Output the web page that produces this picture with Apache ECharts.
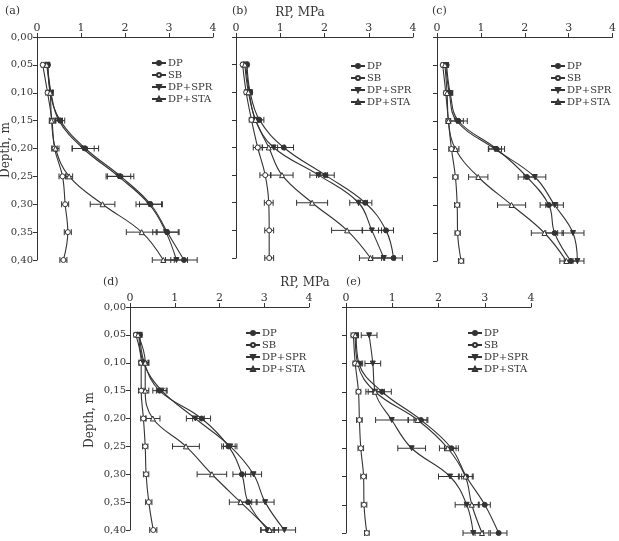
<!DOCTYPE html>
<html>
<head>
<meta charset="utf-8">
<script src="https://cdn.jsdelivr.net/npm/echarts@6/dist/echarts.min.js"></script>
<style>
  html, body { margin: 0; padding: 0; background: #fff; }
  #chart { width: 619px; height: 541px; }
</style>
</head>
<body>
<div id="chart"></div>
<script>
// depth levels (m)
const depths = [0.05, 0.10, 0.15, 0.20, 0.25, 0.30, 0.35, 0.40];
const names = ['DP', 'SB', 'DP+SPR', 'DP+STA'];
const panelLabels = ['(a)', '(b)', '(c)', '(d)', '(e)'];

// penetration resistance RP (MPa), and half width of error bars
const aDP  = [0.25, 0.30, 0.53, 1.10, 1.90, 2.58, 2.96, 3.34];
const aSB  = [0.13, 0.24, 0.34, 0.40, 0.58, 0.64, 0.70, 0.60];
const aSPR = [0.24, 0.32, 0.50, 1.05, 1.85, 2.55, 2.93, 3.17];
const aSTA = [0.22, 0.30, 0.33, 0.42, 0.73, 1.49, 2.38, 2.87];
const aDPe  = [0.03, 0.06, 0.10, 0.30, 0.30, 0.25, 0.25, 0.30];
const aSBe  = [0.03, 0.04, 0.05, 0.06, 0.08, 0.08, 0.08, 0.08];
const aSPRe = [0.03, 0.05, 0.08, 0.25, 0.28, 0.30, 0.30, 0.25];
const aSTAe = [0.03, 0.05, 0.05, 0.08, 0.08, 0.28, 0.35, 0.25];

const bDP  = [0.25, 0.32, 0.53, 1.08, 2.02, 2.92, 3.39, 3.56];
const bSB  = [0.15, 0.23, 0.35, 0.49, 0.66, 0.74, 0.75, 0.75];
const bSPR = [0.22, 0.30, 0.44, 0.85, 1.87, 2.77, 3.07, 3.34];
const bSTA = [0.20, 0.28, 0.44, 0.74, 1.04, 1.72, 2.51, 3.04];
const bDPe  = [0.04, 0.05, 0.10, 0.22, 0.20, 0.15, 0.17, 0.20];
const bSBe  = [0.03, 0.04, 0.05, 0.10, 0.12, 0.10, 0.10, 0.10];
const bSPRe = [0.04, 0.05, 0.10, 0.25, 0.20, 0.20, 0.22, 0.25];
const bSTAe = [0.04, 0.05, 0.08, 0.20, 0.25, 0.35, 0.35, 0.25];

const cDP  = [0.22, 0.30, 0.49, 1.36, 2.05, 2.55, 2.68, 3.05];
const cSB  = [0.13, 0.20, 0.26, 0.33, 0.42, 0.46, 0.47, 0.55];
const cSPR = [0.20, 0.28, 0.45, 1.32, 2.23, 2.68, 3.10, 3.20];
const cSTA = [0.18, 0.23, 0.26, 0.42, 0.94, 1.70, 2.45, 2.95];
const cDPe  = [0.04, 0.06, 0.20, 0.18, 0.20, 0.20, 0.20, 0.15];
const cSBe  = [0.03, 0.04, 0.05, 0.06, 0.06, 0.06, 0.06, 0.06];
const cSPRe = [0.04, 0.06, 0.15, 0.15, 0.25, 0.20, 0.25, 0.15];
const cSTAe = [0.04, 0.05, 0.05, 0.08, 0.22, 0.32, 0.30, 0.15];

const dDP  = [0.22, 0.32, 0.66, 1.60, 2.20, 2.50, 2.64, 3.08];
const dSB  = [0.13, 0.25, 0.25, 0.30, 0.34, 0.36, 0.42, 0.52];
const dSPR = [0.20, 0.30, 0.71, 1.46, 2.24, 2.76, 3.02, 3.45];
const dSTA = [0.18, 0.34, 0.34, 0.51, 1.25, 1.83, 2.47, 3.12];
const dDPe  = [0.05, 0.10, 0.15, 0.20, 0.15, 0.20, 0.20, 0.15];
const dSBe  = [0.04, 0.05, 0.06, 0.06, 0.06, 0.06, 0.07, 0.08];
const dSPRe = [0.05, 0.10, 0.12, 0.20, 0.15, 0.18, 0.20, 0.25];
const dSTAe = [0.05, 0.08, 0.08, 0.16, 0.30, 0.33, 0.25, 0.20];

const eDP  = [0.22, 0.28, 0.78, 1.62, 2.28, 2.60, 3.00, 3.30];
const eSB  = [0.16, 0.20, 0.27, 0.29, 0.32, 0.38, 0.39, 0.45];
const eSPR = [0.50, 0.58, 0.63, 0.99, 1.42, 2.25, 2.61, 2.75];
const eSTA = [0.20, 0.25, 0.63, 1.55, 2.20, 2.58, 2.72, 2.94];
const eDPe  = [0.05, 0.08, 0.20, 0.15, 0.15, 0.15, 0.12, 0.18];
const eSBe  = [0.05, 0.05, 0.05, 0.06, 0.06, 0.06, 0.06, 0.05];
const eSPRe = [0.17, 0.17, 0.20, 0.35, 0.30, 0.25, 0.25, 0.22];
const eSTAe = [0.05, 0.08, 0.15, 0.20, 0.18, 0.15, 0.15, 0.15];

const panels = [
  { vals: [aDP, aSB, aSPR, aSTA], errs: [aDPe, aSBe, aSPRe, aSTAe] },
  { vals: [bDP, bSB, bSPR, bSTA], errs: [bDPe, bSBe, bSPRe, bSTAe] },
  { vals: [cDP, cSB, cSPR, cSTA], errs: [cDPe, cSBe, cSPRe, cSTAe] },
  { vals: [dDP, dSB, dSPR, dSTA], errs: [dDPe, dSBe, dSPRe, dSTAe] },
  { vals: [eDP, eSB, eSPR, eSTA], errs: [eDPe, eSBe, eSPRe, eSTAe] }
];

// grid boxes in px
const boxes = [
  { left: 37,  top: 37,  width: 176, height: 223 },
  { left: 236, top: 37,  width: 177, height: 221 },
  { left: 437, top: 37,  width: 176, height: 224 },
  { left: 130, top: 307, width: 179, height: 223 },
  { left: 346, top: 307, width: 185, height: 226 }
];
const labelPos = [[5, 6], [232, 6], [432, 6], [103, 277], [346, 277]];
const legendPos = [[146, 53], [345, 56], [545, 56], [240, 323], [462, 323]];
const withYLabels = [true, false, false, true, false];

const ink = '#333';
const font = 'DejaVu Serif';
const symbols = ['circle', 'circle', 'triangle', 'triangle'];
const fills = [ink, '#fff', ink, '#fff'];
const rotates = [0, 0, 180, 0];

const chart = echarts.init(document.getElementById('chart'));

const grid = [], xAxis = [], yAxis = [], series = [], legend = [];

panels.forEach((p, k) => {
  grid.push(Object.assign({ containLabel: false }, boxes[k]));

  xAxis.push({
    gridIndex: k, type: 'value', position: 'top', min: 0, max: 4, interval: 1,
    axisLine: { onZero: false, lineStyle: { color: ink, width: 1 } },
    axisTick: { length: 4, lineStyle: { color: ink } },
    axisLabel: { margin: 3, fontFamily: font, fontSize: 11, color: ink },
    splitLine: { show: false }
  });

  yAxis.push({
    gridIndex: k, type: 'value', inverse: true, min: 0, max: 0.4, interval: 0.05,
    axisLine: { onZero: false, lineStyle: { color: ink, width: 1 } },
    axisTick: { length: 4, lineStyle: { color: ink } },
    axisLabel: {
      show: withYLabels[k], margin: 4, fontFamily: font, fontSize: 10, color: ink,
      formatter: v => v.toFixed(2).replace('.', ',')
    },
    splitLine: { show: false }
  });

  legend.push({
    orient: 'vertical', left: legendPos[k][0], top: legendPos[k][1],
    data: names, itemWidth: 14, itemHeight: 5, itemGap: 2,
    selectedMode: false,
    textStyle: { fontFamily: font, fontSize: 10, color: ink, padding: [0, 0, 0, -3] }
  });

  names.forEach((n, s) => {
    const vals = p.vals[s];
    const errs = p.errs[s];
    series.push({
      name: n, type: 'line', xAxisIndex: k, yAxisIndex: k, z: 3,
      data: depths.map((d, i) => [vals[i], d]),
      smooth: 0.4,
      symbol: symbols[s], symbolSize: 5, symbolRotate: rotates[s],
      showAllSymbol: true,
      itemStyle: { color: fills[s], borderColor: ink, borderWidth: 1 },
      lineStyle: { color: ink, width: 1.1 },
      emphasis: { disabled: true }
    });
    series.push({
      name: n + ' err', type: 'custom', xAxisIndex: k, yAxisIndex: k, silent: true, z: 1,
      data: depths.map((d, i) => [vals[i], d, errs[i]]),
      encode: { x: 0, y: 1 },
      renderItem: (params, api) => {
        const x = api.value(0), y = api.value(1), e = api.value(2);
        const lo = api.coord([x - e, y]);
        const hi = api.coord([x + e, y]);
        const style = { stroke: ink, lineWidth: 1 };
        return {
          type: 'group', children: [
            { type: 'line', shape: { x1: lo[0], y1: lo[1], x2: hi[0], y2: hi[1] }, style },
            { type: 'line', shape: { x1: lo[0], y1: lo[1] - 3, x2: lo[0], y2: lo[1] + 3 }, style },
            { type: 'line', shape: { x1: hi[0], y1: hi[1] - 3, x2: hi[0], y2: hi[1] + 3 }, style }
          ]
        };
      }
    });
  });
});

const graphic = panelLabels.map((t, k) => ({
  type: 'text', left: labelPos[k][0], top: labelPos[k][1],
  style: { text: t, font: '11px "DejaVu Serif"', fill: ink }
}));
graphic.push(
  { type: 'text', x: 300, y: 13, style: { text: 'RP, MPa', font: '12px "DejaVu Serif"', fill: ink, align: 'center', verticalAlign: 'middle' } },
  { type: 'text', x: 305, y: 283, style: { text: 'RP, MPa', font: '12px "DejaVu Serif"', fill: ink, align: 'center', verticalAlign: 'middle' } },
  { type: 'text', x: 6, y: 150, rotation: Math.PI / 2, style: { text: 'Depth, m', font: '12px "DejaVu Serif"', fill: ink, align: 'center', verticalAlign: 'middle' } },
  { type: 'text', x: 90, y: 420, rotation: Math.PI / 2, style: { text: 'Depth, m', font: '12px "DejaVu Serif"', fill: ink, align: 'center', verticalAlign: 'middle' } }
);

chart.setOption({
  backgroundColor: '#fff',
  animation: false,
  grid, xAxis, yAxis, legend, series, graphic
});
</script>
</body>
</html>
